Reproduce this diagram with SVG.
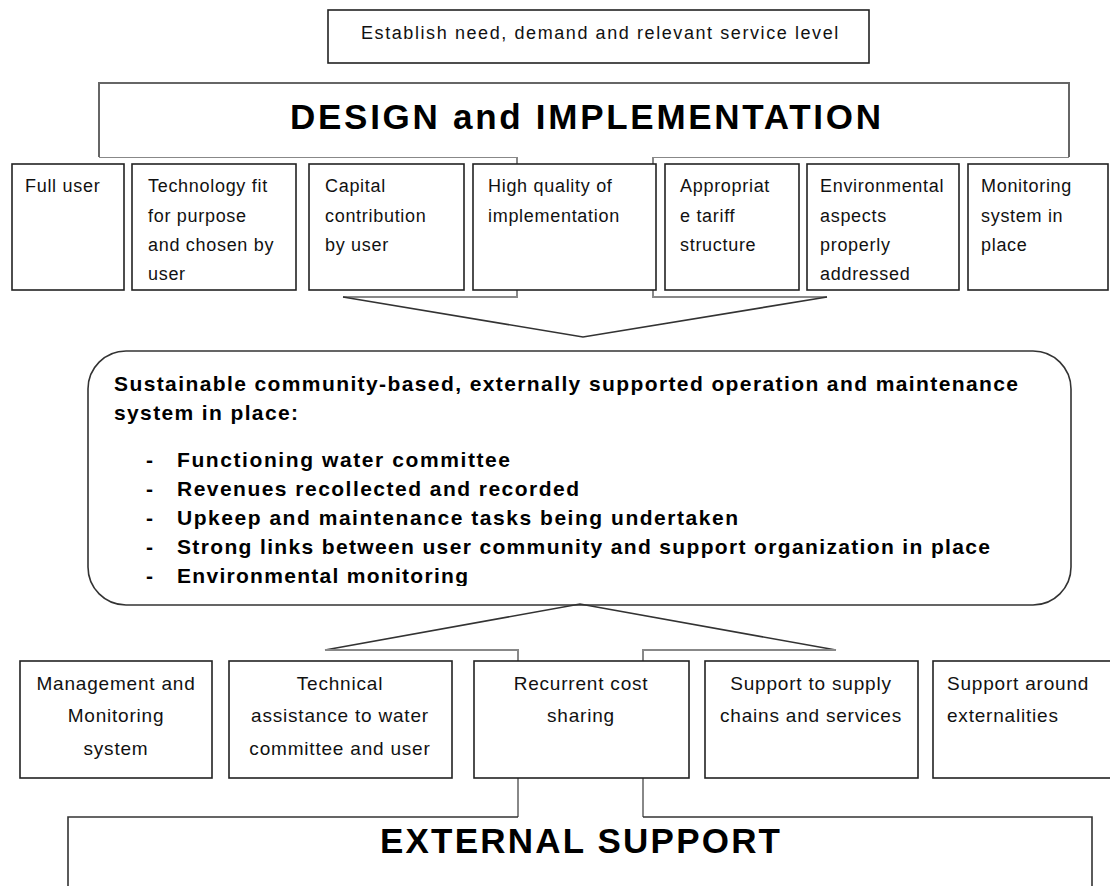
<svg xmlns="http://www.w3.org/2000/svg" width="1110" height="886" viewBox="0 0 1110 886">
<style>
.box{fill:#fff;stroke:#222;stroke-width:1.6}
.lbl{font-family:"Liberation Sans",Arial,sans-serif;font-size:18px;letter-spacing:0.7px;fill:#111}
.lbl2{font-family:"Liberation Sans",Arial,sans-serif;font-size:19px;letter-spacing:0.8px;fill:#111}
.c{text-anchor:middle}
.bold{font-family:"Liberation Sans",Arial,sans-serif;font-weight:bold;font-size:21px;fill:#000}
.title{font-family:"Liberation Sans",Arial,sans-serif;font-weight:bold;font-size:35px;fill:#000}
.gray{fill:none;stroke:#888;stroke-width:2}
.dark{fill:none;stroke:#333;stroke-width:1.6}
</style>
<defs>
<clipPath id="clipBox"><rect x="88" y="351" width="983" height="235"/></clipPath>
</defs>
<rect width="1110" height="886" fill="#fff"/>

<g id="connectors">
<path class="gray" d="M99,157 H517 V164 M653,164 V157 H1069"/>
<path class="gray" d="M517,290 V297 H343 M653,290 V297 H827"/>
<path class="dark" d="M343,297 L583,337 L827,297"/>
<path class="dark" d="M325,650 L580,604 L836,650"/>
<path class="gray" d="M325,650 H518 V661 M643,661 V650 H836"/>
<path class="gray" d="M518,778 V817 M643,778 V817"/>
</g>

<g id="need">
<rect class="box" x="328" y="10" width="541" height="53"/>
<text class="lbl" x="361" y="39" font-size="19" letter-spacing="0" textLength="478" lengthAdjust="spacing">Establish need, demand and relevant service level</text>
</g>

<g id="design">
<path fill="#fff" stroke="#666" stroke-width="2" d="M99,157 V83 H1069 V157"/>
<text class="title" x="290" y="129" textLength="591" lengthAdjust="spacing">DESIGN and IMPLEMENTATION</text>
</g>

<g id="full-user"><rect class="box" x="12" y="164" width="112" height="126"/>
<text class="lbl" x="25" y="192">Full user</text></g>
<g id="technology"><rect class="box" x="132" y="164" width="164" height="126"/>
<text class="lbl" x="148" y="192">Technology fit</text><text class="lbl" x="148" y="222">for purpose</text><text class="lbl" x="148" y="251">and chosen by</text><text class="lbl" x="148" y="280">user</text></g>
<g id="capital"><rect class="box" x="309" y="164" width="155" height="126"/>
<text class="lbl" x="325" y="192">Capital</text><text class="lbl" x="325" y="222">contribution</text><text class="lbl" x="325" y="251">by user</text></g>
<g id="quality"><rect class="box" x="473" y="164" width="183" height="126"/>
<text class="lbl" x="488" y="192">High quality of</text><text class="lbl" x="488" y="222">implementation</text></g>
<g id="tariff"><rect class="box" x="665" y="164" width="134" height="126"/>
<text class="lbl" x="680" y="192">Appropriat</text><text class="lbl" x="680" y="222">e tariff</text><text class="lbl" x="680" y="251">structure</text></g>
<g id="environment"><rect class="box" x="807" y="164" width="152" height="126"/>
<text class="lbl" x="820" y="192">Environmental</text><text class="lbl" x="820" y="222">aspects</text><text class="lbl" x="820" y="251">properly</text><text class="lbl" x="820" y="280">addressed</text></g>
<g id="monitoring"><rect class="box" x="968" y="164" width="140" height="126"/>
<text class="lbl" x="981" y="192">Monitoring</text><text class="lbl" x="981" y="222">system in</text><text class="lbl" x="981" y="251">place</text></g>

<g id="om-system">
<rect x="88" y="351" width="983" height="254" rx="38" ry="38" fill="none" stroke="#333" stroke-width="1.6"/>
<g clip-path="url(#clipBox)">
<text class="bold" x="114" y="391" textLength="904" lengthAdjust="spacing">Sustainable community-based, externally supported operation and maintenance</text>
<text class="bold" x="114" y="420" textLength="184" lengthAdjust="spacing">system in place:</text>
<text class="bold" x="146" y="467">-</text><text class="bold" x="177" y="467" textLength="333" lengthAdjust="spacing">Functioning water committee</text>
<text class="bold" x="146" y="496">-</text><text class="bold" x="177" y="496" textLength="402" lengthAdjust="spacing">Revenues recollected and recorded</text>
<text class="bold" x="146" y="525">-</text><text class="bold" x="177" y="525" textLength="561" lengthAdjust="spacing">Upkeep and maintenance tasks being undertaken</text>
<text class="bold" x="146" y="554">-</text><text class="bold" x="177" y="554" textLength="813" lengthAdjust="spacing">Strong links between user community and support organization in place</text>
<text class="bold" x="146" y="583">-</text><text class="bold" x="177" y="583" textLength="291" lengthAdjust="spacing">Environmental monitoring</text>
</g>
</g>

<g id="management"><rect class="box" x="20" y="661" width="192" height="117"/>
<text class="lbl2 c" x="116" y="690">Management and</text><text class="lbl2 c" x="116" y="722">Monitoring</text><text class="lbl2 c" x="116" y="755">system</text></g>
<g id="technical"><rect class="box" x="229" y="661" width="223" height="117"/>
<text class="lbl2 c" x="340" y="690">Technical</text><text class="lbl2 c" x="340" y="722">assistance to water</text><text class="lbl2 c" x="340" y="755">committee and user</text></g>
<g id="recurrent"><rect class="box" x="474" y="661" width="215" height="117"/>
<text class="lbl2 c" x="581" y="690">Recurrent cost</text><text class="lbl2 c" x="581" y="722">sharing</text></g>
<g id="supply"><rect class="box" x="705" y="661" width="213" height="117"/>
<text class="lbl2 c" x="811" y="690">Support to supply</text><text class="lbl2 c" x="811" y="722">chains and services</text></g>
<g id="externalities"><rect class="box" x="933" y="661" width="180" height="117"/>
<text class="lbl2" x="947" y="690">Support around</text><text class="lbl2" x="947" y="722">externalities</text></g>

<g id="external-support">
<path fill="none" stroke="#333" stroke-width="1.6" d="M68,890 V817 H518 M643,817 H1092 V890"/>
<text class="title" x="380" y="853" textLength="400" lengthAdjust="spacing">EXTERNAL SUPPORT</text>
</g>
</svg>
